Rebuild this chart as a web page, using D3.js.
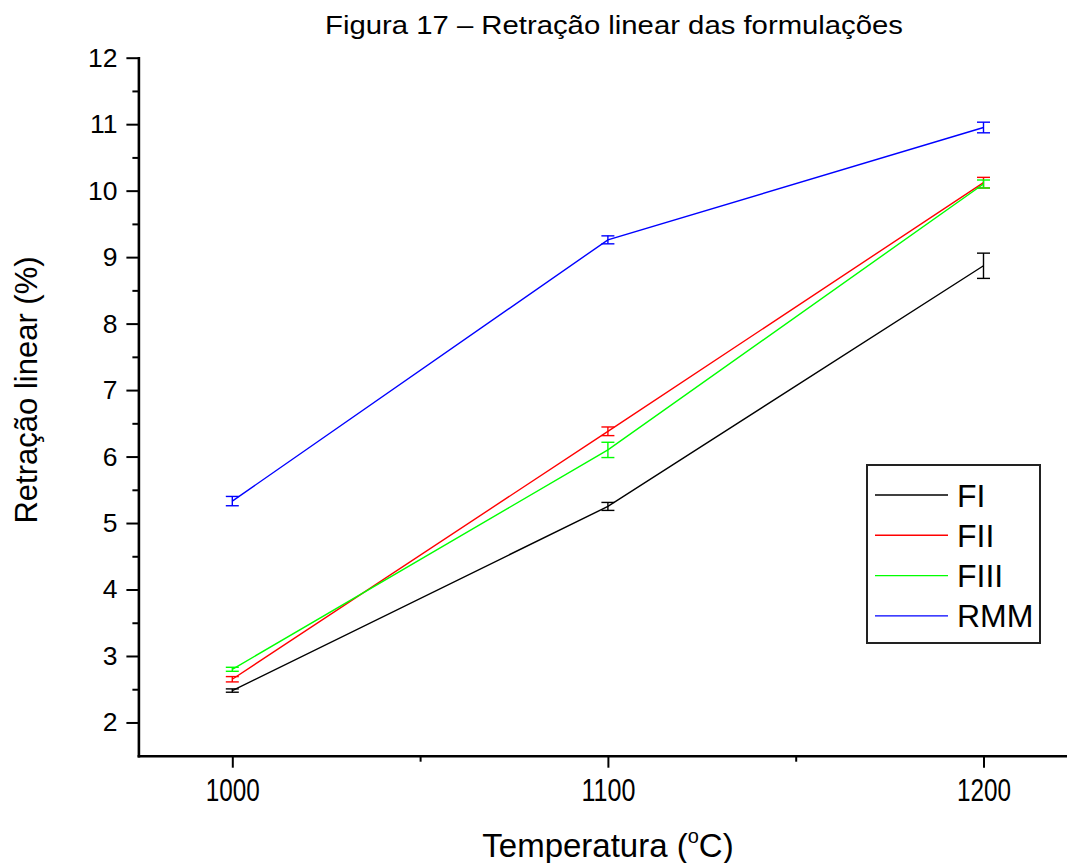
<!DOCTYPE html>
<html>
<head>
<meta charset="utf-8">
<script src="https://cdnjs.cloudflare.com/ajax/libs/d3/7.8.5/d3.min.js"></script>
<style>
  body { margin: 0; background: white; }
  svg { display: block; font-family: "Liberation Sans", Arial, sans-serif; }
</style>
</head>
<body>
<svg id="canvas"></svg>
<script>
// values
let temps = [1000, 1100, 1200];
let seriesNames = ["FI", "FII", "FIII", "RMM"];
let seriesColors = ["#000000", "#ff0000", "#00ff00", "#0000ff"];

let valFI = [2.48, 5.25, 8.87];
let errFI = [0.025, 0.06, 0.19];
let valFII = [2.65, 6.38, 10.12];
let errFII = [0.04, 0.065, 0.08];
let valFIII = [2.80, 6.10, 10.10];
let errFIII = [0.03, 0.115, 0.06];
let valRMM = [5.33, 9.26, 10.95];
let errRMM = [0.07, 0.06, 0.08];

let yMajor = [2, 3, 4, 5, 6, 7, 8, 9, 10, 11, 12];
let yMinor = [2.5, 3.5, 4.5, 5.5, 6.5, 7.5, 8.5, 9.5, 10.5, 11.5];
let xMajor = [1000, 1100, 1200];
let xMinor = [1050, 1150];

let width = 1067;
let height = 863;

let canvas = d3.select("#canvas");
canvas.attr("width", width)
canvas.attr("height", height)

let series = seriesNames.map((name, i) => {
    let vals = [valFI, valFII, valFIII, valRMM][i];
    let errs = [errFI, errFII, errFIII, errRMM][i];
    return {
        name: name,
        color: seriesColors[i],
        points: temps.map((t, j) => ({ t: t, v: vals[j], e: errs[j] }))
    }
})

let xScale = d3.scaleLinear()
               .domain([975, 1225])
               .range([138.4, 1077.4])

let yScale = d3.scaleLinear()
               .domain([1.5, 12])
               .range([755.7, 57.7])

let drawAxes = () => {
    let xAxis = d3.axisBottom(xScale)
                  .tickValues(xMajor)
                  .tickFormat(d3.format("d"))
                  .tickSize(12)
                  .tickPadding(11)
                  .tickSizeOuter(0)
    let xAxisMinor = d3.axisBottom(xScale)
                       .tickValues(xMinor)
                       .tickFormat("")
                       .tickSize(6)
                       .tickSizeOuter(0)
    let yAxis = d3.axisLeft(yScale)
                  .tickValues(yMajor)
                  .tickFormat(d3.format("d"))
                  .tickSize(12)
                  .tickPadding(9)
                  .tickSizeOuter(0)
    let yAxisMinor = d3.axisLeft(yScale)
                       .tickValues(yMinor)
                       .tickFormat("")
                       .tickSize(6)
                       .tickSizeOuter(0)

    let gx = canvas.append("g")
          .attr("id", "x-axis")
          .attr("transform", "translate(0," + yScale(1.5) + ")")
          .call(xAxis)
    canvas.append("g")
          .attr("transform", "translate(0," + yScale(1.5) + ")")
          .call(xAxisMinor)
          .select(".domain").remove()

    let gy = canvas.append("g")
          .attr("id", "y-axis")
          .attr("transform", "translate(" + xScale(975) + ",0)")
          .call(yAxis)
    canvas.append("g")
          .attr("transform", "translate(" + xScale(975) + ",0)")
          .call(yAxisMinor)
          .select(".domain").remove()

    canvas.selectAll(".domain")
          .attr("stroke", "#000")
          .attr("stroke-width", 2.6)
          .attr("stroke-linecap", "square")
    canvas.selectAll(".tick line")
          .attr("stroke", "#000")
          .attr("stroke-width", 2)

    gx.selectAll("text")
      .attr("font-family", "Liberation Sans, Arial, sans-serif")
      .attr("font-size", 31)
      .attr("fill", "#000")
      .attr("textLength", 54)
      .attr("lengthAdjust", "spacingAndGlyphs")
      .attr("x", -27)
      .attr("text-anchor", "start")

    gy.selectAll("text")
      .attr("font-family", "Liberation Sans, Arial, sans-serif")
      .attr("font-size", 26.5)
      .attr("fill", "#000")
}

let drawSeries = () => {
    let line = d3.line()
                 .x((d) => xScale(d.t))
                 .y((d) => yScale(d.v))

    let g = canvas.selectAll(".series")
          .data(series)
          .enter()
          .append("g")
          .attr("class", "series")

    g.append("path")
     .attr("d", (s) => line(s.points))
     .attr("fill", "none")
     .attr("stroke", (s) => s.color)
     .attr("stroke-width", 1.4)

    let bars = g.selectAll(".err")
                .data((s) => s.points.map((p) => ({ p: p, color: s.color })))
                .enter()
                .append("g")
                .attr("class", "err")
                .attr("stroke", (d) => d.color)
                .attr("stroke-width", 1.4)

    bars.append("line")
        .attr("x1", (d) => xScale(d.p.t))
        .attr("x2", (d) => xScale(d.p.t))
        .attr("y1", (d) => yScale(d.p.v - d.p.e))
        .attr("y2", (d) => yScale(d.p.v + d.p.e))

    bars.append("line")
        .attr("x1", (d) => xScale(d.p.t) - 6.5)
        .attr("x2", (d) => xScale(d.p.t) + 6.5)
        .attr("y1", (d) => yScale(d.p.v - d.p.e))
        .attr("y2", (d) => yScale(d.p.v - d.p.e))

    bars.append("line")
        .attr("x1", (d) => xScale(d.p.t) - 6.5)
        .attr("x2", (d) => xScale(d.p.t) + 6.5)
        .attr("y1", (d) => yScale(d.p.v + d.p.e))
        .attr("y2", (d) => yScale(d.p.v + d.p.e))
}

let drawLegend = () => {
    let legend = canvas.append("g")
                       .attr("id", "legend")

    legend.append("rect")
          .attr("x", 867)
          .attr("y", 465)
          .attr("width", 173)
          .attr("height", 178)
          .attr("fill", "white")
          .attr("stroke", "#222")
          .attr("stroke-width", 2)

    let rows = legend.selectAll(".row")
                     .data(series)
                     .enter()
                     .append("g")
                     .attr("class", "row")
                     .attr("transform", (s, i) => "translate(0," + (495 + i * 40.3) + ")")

    rows.append("line")
        .attr("x1", 875)
        .attr("x2", 948)
        .attr("stroke", (s) => s.color)
        .attr("stroke-width", 1.4)

    rows.append("text")
        .attr("x", 957)
        .attr("y", 11.5)
        .attr("font-size", 32)
        .attr("fill", "#000")
        .text((s) => s.name)
}

let drawTitles = () => {
    canvas.append("text")
          .attr("x", 325)
          .attr("y", 34)
          .attr("font-size", 25)
          .attr("textLength", 578)
          .attr("lengthAdjust", "spacingAndGlyphs")
          .attr("fill", "#000")
          .text("Figura 17 – Retração linear das formulações")

    canvas.append("text")
          .attr("transform", "translate(37,390) rotate(-90)")
          .attr("text-anchor", "middle")
          .attr("font-size", 31)
          .attr("fill", "#000")
          .text("Retração linear (%)")

    let xt = canvas.append("text")
          .attr("x", 608)
          .attr("y", 857)
          .attr("text-anchor", "middle")
          .attr("font-size", 33)
          .attr("fill", "#000")
    xt.append("tspan").text("Temperatura (")
    xt.append("tspan").attr("font-size", 20).attr("dy", -14).text("o")
    xt.append("tspan").attr("dy", 14).text("C)")
}

drawAxes();
drawSeries();
drawLegend();
drawTitles();
</script>
</body>
</html>
